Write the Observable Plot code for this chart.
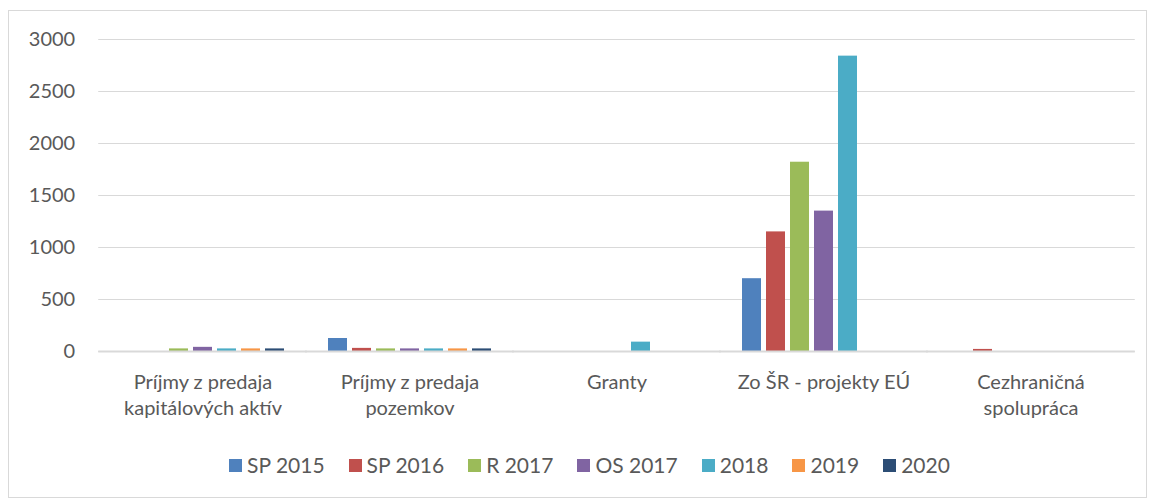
<!DOCTYPE html>
<html>
<head>
<meta charset="utf-8">
<script src="https://cdn.jsdelivr.net/npm/d3@7"></script>
<script src="https://cdn.jsdelivr.net/npm/@observablehq/plot@0.6"></script>
<style>
  html, body { margin: 0; padding: 0; background: #fff; }
  #wrap { position: relative; width: 1151px; height: 503px; font-family: Lato, "Open Sans", sans-serif; }
  #frame { position: absolute; left: 8px; top: 10px; width: 1137px; height: 486px; border: 1px solid #d9d9d9; }
  #chart { position: absolute; left: 0; top: 0; }
  #legend { position: absolute; left: 14px; width: 1151px; top: 452px; display: flex; justify-content: center; font-size: 21px; color: #595959; line-height: 26px; }
  .item { display: flex; align-items: center; margin: 0 12px; }
  .sw { width: 13px; height: 13px; margin-right: 5px; }
</style>
</head>
<body>
<div id="wrap">
  <div id="frame"></div>
  <div id="chart"></div>
  <div id="legend"></div>
</div>
<script>
const categories = ["Príjmy z predaja kapitálových aktív", "Príjmy z predaja pozemkov", "Granty", "Zo ŠR - projekty EÚ", "Cezhraničná spolupráca"];
const categoryLabels = ["Príjmy z predaja\nkapitálových aktív", "Príjmy z predaja\npozemkov", "Granty", "Zo ŠR - projekty EÚ", "Cezhraničná\nspolupráca"];
const series = ["SP 2015", "SP 2016", "R 2017", "OS 2017", "2018", "2019", "2020"];
const colors = ["#4F81BD", "#C0504D", "#9BBB59", "#8064A2", "#4BACC6", "#F79646", "#2C4D75"];
// values per series, in category order
const sp2015 = [0, 125, 0, 700, 0];
const sp2016 = [0, 30, 0, 1150, 20];
const r2017 = [25, 25, 0, 1820, 0];
const os2017 = [40, 25, 0, 1350, 0];
const y2018 = [25, 25, 90, 2840, 0];
const y2019 = [25, 25, 0, 0, 0];
const y2020 = [25, 25, 0, 0, 0];
const yTicks = [0, 500, 1000, 1500, 2000, 2500, 3000];

const seriesValues = [sp2015, sp2016, r2017, os2017, y2018, y2019, y2020];
const data = [];
categories.forEach((c, i) => {
  series.forEach((s, j) => {
    data.push({category: c, series: s, value: seriesValues[j][i]});
  });
});
const labelOf = new Map(categories.map((c, i) => [c, categoryLabels[i]]));

const W = 1151, ML = 97, MR = 16;
const padIn = 0.205, padOut = padIn / 2;
// extend per-facet grid lines across the gaps between facets
const ext = ((W - ML - MR) / categories.length) * padOut;

const chart = Plot.plot({
  width: W,
  height: 440,
  marginLeft: ML,
  marginRight: MR,
  marginTop: 39,
  marginBottom: 89,
  style: {fontFamily: "Lato, 'Open Sans', sans-serif", fontSize: "20px", color: "#595959", background: "transparent", overflow: "visible"},
  fx: {domain: categories, paddingInner: padIn, paddingOuter: padOut, label: null},
  x: {domain: series, paddingInner: 0.2, paddingOuter: 0, axis: null},
  y: {domain: [0, 3000], label: null, ticks: yTicks},
  color: {domain: series, range: colors},
  marks: [
    Plot.ruleY(yTicks, {stroke: "#d9d9d9", strokeWidth: 1, insetLeft: -ext - 0.5, insetRight: -ext - 0.5}),
    Plot.axisY(yTicks, {tickSize: 0, tickPadding: 24 + ext, fontSize: 20, fill: "#595959", label: null, tickFormat: d3.format("d")}),
    Plot.axisFx({anchor: "bottom", tickSize: 0, tickPadding: 19, fontSize: 20, fill: "#595959", lineHeight: 1.3, tickFormat: d => labelOf.get(d), label: null}),
    Plot.barY(data, {fx: "category", x: "series", y: "value", fill: "series"}),
    Plot.ruleY([0], {stroke: "#d9d9d9", strokeWidth: 2, insetLeft: -ext - 0.5, insetRight: -ext - 0.5})
  ]
});
document.getElementById("chart").appendChild(chart);

const legend = document.getElementById("legend");
series.forEach((s, i) => {
  const it = document.createElement("div");
  it.className = "item";
  it.innerHTML = `<span class="sw" style="background:${colors[i]}"></span><span>${s}</span>`;
  legend.appendChild(it);
});
</script>
</body>
</html>
